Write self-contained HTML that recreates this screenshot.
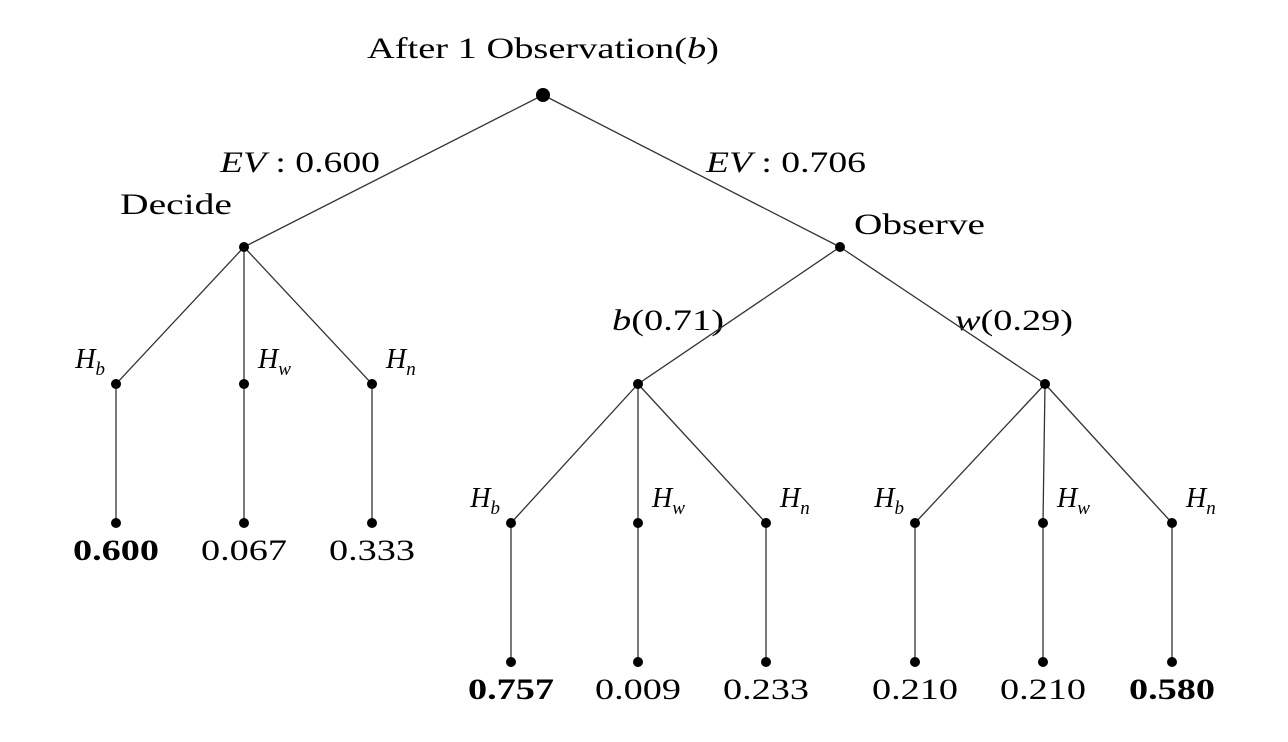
<!DOCTYPE html>
<html><head><meta charset="utf-8">
<style>
html,body{margin:0;padding:0;background:#fff;}
svg{display:block;}
text{font-family:"Liberation Serif",serif;fill:#000;}
</style></head>
<body>
<svg id="tree" width="1288" height="742" viewBox="0 0 1288 742" xmlns="http://www.w3.org/2000/svg">
<text x="543" y="58" font-size="30" text-anchor="middle" textLength="352" lengthAdjust="spacingAndGlyphs">After 1 Observation(<tspan font-style="italic">b</tspan>)</text>
<text x="220" y="172" font-size="30" textLength="160" lengthAdjust="spacingAndGlyphs"><tspan font-style="italic">EV</tspan> : 0.600</text>
<text x="706" y="172" font-size="30" textLength="160" lengthAdjust="spacingAndGlyphs"><tspan font-style="italic">EV</tspan> : 0.706</text>
<text x="120" y="214" font-size="30" textLength="112" lengthAdjust="spacingAndGlyphs">Decide</text>
<text x="854" y="234" font-size="30" textLength="131" lengthAdjust="spacingAndGlyphs">Observe</text>
<text x="612" y="330" font-size="30" textLength="112" lengthAdjust="spacingAndGlyphs"><tspan font-style="italic">b</tspan>(0.71)</text>
<text x="955" y="330" font-size="30" textLength="118" lengthAdjust="spacingAndGlyphs"><tspan font-style="italic">w</tspan>(0.29)</text>
<g id="edges"></g><g id="nodes"></g><g id="labels"></g>
</svg>
<script>
// hypotheses and leaf values
const hyps = ['b','w','n'];
const decideValues = [0.600, 0.067, 0.333];
const obsBValues = [0.757, 0.009, 0.233];
const obsWValues = [0.210, 0.210, 0.580];

const NS='http://www.w3.org/2000/svg';
const E=document.getElementById('edges'),N=document.getElementById('nodes'),L=document.getElementById('labels');
function line(x1,y1,x2,y2,name){const l=document.createElementNS(NS,'line');
l.setAttribute('x1',x1);l.setAttribute('y1',y1);l.setAttribute('x2',x2);l.setAttribute('y2',y2);
l.setAttribute('stroke','#333');l.setAttribute('stroke-width','1.3');


E.appendChild(l);}
function dot(x,y,r,name){const c=document.createElementNS(NS,'circle');
c.setAttribute('cx',x);c.setAttribute('cy',y);c.setAttribute('r',r);


N.appendChild(c);}
function hlabel(x,y,h,anchor,name){const t=document.createElementNS(NS,'text');
t.setAttribute('x',x);t.setAttribute('y',y);t.setAttribute('font-size','28');t.setAttribute('font-style','italic');
t.setAttribute('text-anchor',anchor);
t.innerHTML='H<tspan font-size="19" dy="7">'+h+'</tspan>';


L.appendChild(t);}
function vlabel(x,y,v,bold,name){const t=document.createElementNS(NS,'text');
t.setAttribute('x',x);t.setAttribute('y',y);t.setAttribute('font-size','30');t.setAttribute('text-anchor','middle');
t.setAttribute('textLength','86');t.setAttribute('lengthAdjust','spacingAndGlyphs');
if(bold)t.setAttribute('font-weight','bold');
t.textContent=v.toFixed(3);


L.appendChild(t);}

const root=[543,95], dec=[244,247], obs=[840,247];
line(root[0],root[1],dec[0],dec[1],'edge-root-decide');
line(root[0],root[1],obs[0],obs[1],'edge-root-observe');
dot(root[0],root[1],7,'root-node');dot(dec[0],dec[1],5,'decide-node');dot(obs[0],obs[1],5,'observe-node');

function group(parent,xs,yH,yLeaf,vals,prefix){
  const mx=Math.max(...vals);
  xs.forEach((x,i)=>{
    line(parent[0],parent[1],x,yH,prefix+'-edge-h'+hyps[i]);
    line(x,yH,x,yLeaf,prefix+'-edge-leaf-'+hyps[i]);
    dot(x,yH,5,prefix+'-node-h'+hyps[i]);
    dot(x,yLeaf,5,prefix+'-leaf-'+hyps[i]);
    if(i===0) hlabel(x-11,yH-16,hyps[i],'end',prefix+'-label-h'+hyps[i]);
    else hlabel(x+14,yH-16,hyps[i],'start',prefix+'-label-h'+hyps[i]);
    vlabel(x,yLeaf+37,vals[i],vals[i]===mx,prefix+'-value-'+hyps[i]);
  });
}
group(dec,[116,244,372],384,523,decideValues,'decide');
const ob=[638,384], ow=[1045,384];
line(obs[0],obs[1],ob[0],ob[1],'edge-observe-b');
line(obs[0],obs[1],ow[0],ow[1],'edge-observe-w');
dot(ob[0],ob[1],5,'obs-b-node');dot(ow[0],ow[1],5,'obs-w-node');
group(ob,[511,638,766],523,662,obsBValues,'obs-b');
group(ow,[915,1043,1172],523,662,obsWValues,'obs-w');
</script>
</body></html>
